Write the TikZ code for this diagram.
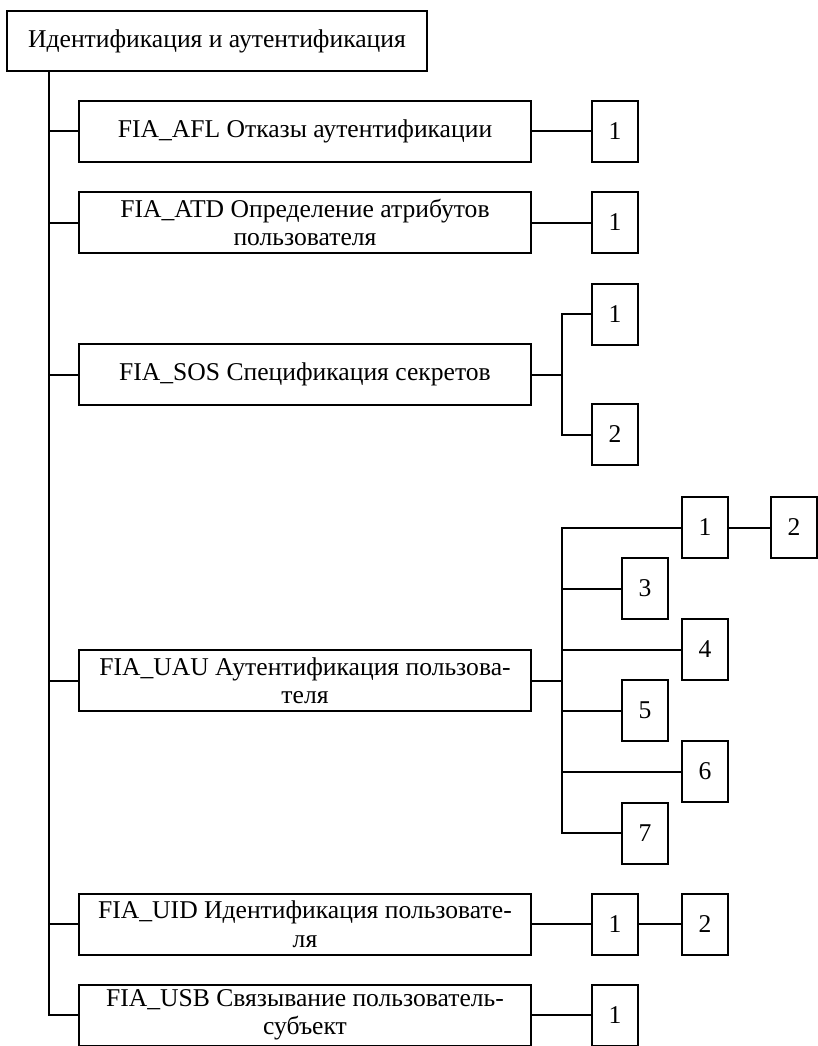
\documentclass[tikz,border=0pt]{standalone}
\usepackage{fontspec}
\setmainfont{Liberation Serif}

\begin{document}
\begin{tikzpicture}[x=1pt,y=-1pt,line width=2pt,
    klass/.style={draw,minimum width=420pt,minimum height=60pt,inner sep=0pt},
    semja/.style={draw,minimum width=452pt,minimum height=61pt,inner sep=0pt,align=center},
    komp/.style={draw,minimum width=46pt,minimum height=61pt,inner sep=0pt}]
  \useasboundingbox (0,0) rectangle (817,1046);
  \fontsize{25.6}{28.5}\selectfont
  % klass
  \node[klass] (root) at (217,41) {Идентификация и аутентификация};
  \coordinate (trunk) at (49,71);
  % semejstva
  \node[semja] (afl) at (305,131.5) {FIA\_AFL Отказы аутентификации};
  \node[semja] (atd) at (305,222.5) {FIA\_ATD Определение атрибутов\\пользователя};
  \node[semja] (sos) at (305,374.5) {FIA\_SOS Спецификация секретов};
  \node[semja] (uau) at (305,680.5) {FIA\_UAU Аутентификация пользова-\\теля};
  \node[semja] (uid) at (305,924) {FIA\_UID Идентификация пользовате-\\ля};
  \node[semja] (usb) at (305,1015) {FIA\_USB Связывание пользователь-\\субъект};
  \foreach \f in {afl,atd,sos,uau,uid,usb}
    \draw (trunk) |- (\f.west);
  % komponenty
  \node[komp] (afl1) at (615,131.5) {1};
  \node[komp] (atd1) at (615,222.5) {1};
  \node[komp] (sos1) at (615,314) {1};
  \node[komp] (sos2) at (615,434.5) {2};
  \node[komp] (uau1) at (705,527.5) {1};
  \node[komp] (uau2) at (794,527.5) {2};
  \node[komp] (uau3) at (645,588.5) {3};
  \node[komp] (uau4) at (705,649.5) {4};
  \node[komp] (uau5) at (645,710.5) {5};
  \node[komp] (uau6) at (705,771.5) {6};
  \node[komp] (uau7) at (645,833) {7};
  \node[komp] (uid1) at (615,924) {1};
  \node[komp] (uid2) at (705,924) {2};
  \node[komp] (usb1) at (615,1015) {1};
  % svjazi
  \draw (afl) -- (afl1);
  \draw (atd) -- (atd1);
  \coordinate (sosbr) at (562,374.5);
  \draw (sos) -- (sosbr) |- (sos1);
  \draw (sosbr) |- (sos2);
  \coordinate (uaubr) at (562,680.5);
  \draw (uau) -- (uaubr);
  \foreach \k in {1,3,4,5,6,7}
    \draw (uaubr) |- (uau\k.west);
  \draw (uau1) -- (uau2);
  \draw (uid) -- (uid1) -- (uid2);
  \draw (usb) -- (usb1);
\end{tikzpicture}
\end{document}
